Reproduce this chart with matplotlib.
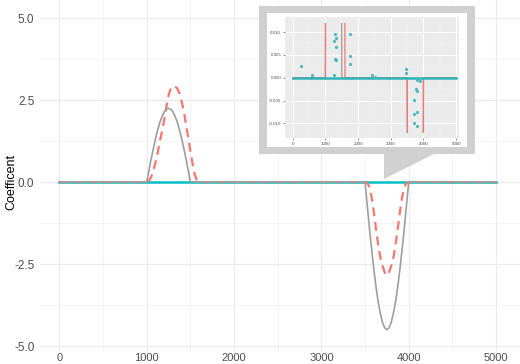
import matplotlib
matplotlib.use("Agg")
import matplotlib.pyplot as plt
from matplotlib.patches import Rectangle, Polygon

plt.rcParams['font.family'] = ['Liberation Sans', 'DejaVu Sans']

# estimated coefficient curves (main panel)
grey_x1 = list(range(1000, 1501, 25))
grey_y1 = [0, 0.35, 0.70, 1.02, 1.32, 1.59, 1.82, 2.00, 2.14, 2.22, 2.25,
           2.22, 2.14, 2.00, 1.82, 1.59, 1.32, 1.02, 0.70, 0.35, 0]
grey_x2 = list(range(3500, 4001, 25))
grey_y2 = [0, -0.70, -1.40, -2.04, -2.64, -3.18, -3.64, -4.00, -4.28, -4.44, -4.50,
           -4.44, -4.28, -4.00, -3.64, -3.18, -2.64, -2.04, -1.40, -0.70, 0]

red_x1 = list(range(1000, 1601, 25))
red_y1 = [0, 0.05, 0.15, 0.35, 0.60, 0.90, 1.25, 1.55, 1.90, 2.30, 2.65, 2.85, 2.93,
          2.92, 2.85, 2.70, 2.45, 2.15, 1.75, 1.35, 0.95, 0.55, 0.22, 0.06, 0]
red_x2 = list(range(3500, 4001, 25))
red_y2 = [0, -0.03, -0.15, -0.45, -0.90, -1.40, -1.90, -2.30, -2.55, -2.75, -2.85,
          -2.75, -2.55, -2.30, -1.90, -1.40, -0.90, -0.45, -0.15, -0.03, 0]

grey_x = [0] + grey_x1 + grey_x2 + [5000]
grey_y = [0] + grey_y1 + grey_y2 + [0]
red_x = [0] + red_x1 + red_x2 + [5000]
red_y = [0] + red_y1 + red_y2 + [0]
cyan_x = [0, 5000]
cyan_y = [0, 0]

# scattered small estimates shown in the zoomed inset
pts_x = [250, 590, 1290, 1322, 1270, 1312, 1296, 1322, 1275, 1768, 1768, 1768,
         2414, 2520, 3480, 3480, 3787, 3880, 3782, 3792, 3700, 3711, 3787, 3695, 3792]
pts_y = [0.0026, 0.0006, 0.0096, 0.0087, 0.0080, 0.0067, 0.0042, 0.0039, 0.0007,
         0.0095, 0.0047, 0.0030, 0.0006, 0.0002, 0.0020, 0.0010, -0.0006, -0.0007,
         -0.0025, -0.0028, -0.0048, -0.0080, -0.0075, -0.0099, -0.0105]

GREY = '#9E9E9E'
RED = '#F8766D'
CYAN = '#00BFC4'

W, H = 520, 364
fig = plt.figure(figsize=(W / 100, H / 100), dpi=100)


def fx(px):
    return px / W


def fy(py):
    return 1 - py / H


# main panel
ax = fig.add_axes([fx(40), fy(353), fx(520) - fx(40), fy(0) - fy(353)])
ax.set_xlim(-223, 5275)
ax.set_ylim(-5.21, 5.55)
ax.set_xticks([0, 1000, 2000, 3000, 4000, 5000])
ax.set_xticks([500, 1500, 2500, 3500, 4500], minor=True)
ax.set_yticks([-5, -2.5, 0, 2.5, 5])
ax.set_yticks([-3.75, -1.25, 1.25, 3.75], minor=True)
ax.set_yticklabels(['-5.0', '-2.5', '0.0', '2.5', '5.0'])
ax.grid(True, which='major', color='#EBEBEB', linewidth=0.9)
ax.grid(True, which='minor', color='#F2F2F2', linewidth=0.6)
ax.set_axisbelow(True)
for s in ax.spines.values():
    s.set_visible(False)
ax.tick_params(which='both', length=0, labelsize=8.5, labelcolor='#4D4D4D')
ax.tick_params(axis='x', pad=0, labelsize=8)
ax.tick_params(axis='y', pad=4)
fig.text(fx(11), fy(182), 'Coefficent', rotation=90, ha='center', va='center',
         fontsize=9, color='black')

ax.plot(cyan_x, cyan_y, color=CYAN, linewidth=1.8, zorder=2)
ax.plot(red_x, red_y, color=RED, linewidth=1.6, linestyle=(0, (4, 2.6)), zorder=3)
ax.plot(grey_x, grey_y, color=GREY, linewidth=1.2, zorder=4)

# callout box
box = Rectangle((fx(259), fy(154)), fx(475) - fx(259), fy(6) - fy(154),
                transform=fig.transFigure, facecolor='#D0D0D0', edgecolor='none', zorder=5)
tail = Polygon([(fx(384), fy(152)), (fx(438), fy(152)), (fx(384), fy(179))],
               closed=True, transform=fig.transFigure, facecolor='#D0D0D0',
               edgecolor='none', zorder=5)
inner = Rectangle((fx(267), fy(147)), fx(467) - fx(267), fy(13) - fy(147),
                  transform=fig.transFigure, facecolor='white', edgecolor='none', zorder=6)
fig.add_artist(box)
fig.add_artist(tail)
fig.add_artist(inner)

# inset (zoomed view)
axi = fig.add_axes([fx(285), fy(138), fx(459) - fx(285), fy(17) - fy(138)], zorder=7)
axi.set_facecolor('#EBEBEB')
axi.set_xlim(-235, 5086)
axi.set_ylim(-0.0132, 0.0133)
axi.set_xticks([0, 1000, 2000, 3000, 4000, 5000])
axi.set_xticks([500, 1500, 2500, 3500, 4500], minor=True)
axi.set_yticks([-0.010, -0.005, 0.0, 0.005, 0.010])
axi.set_yticks([-0.0075, -0.0025, 0.0025, 0.0075], minor=True)
axi.set_yticklabels(['-0.010', '-0.005', '0.000', '0.005', '0.010'])
axi.grid(True, which='major', color='white', linewidth=0.7)
axi.grid(True, which='minor', color='#F5F5F5', linewidth=0.35)
axi.set_axisbelow(True)
for s in axi.spines.values():
    s.set_visible(False)
axi.tick_params(which='major', length=1.2, width=0.4, color='#333333',
                labelsize=3.2, labelcolor='#4D4D4D', pad=1.5)
axi.tick_params(which='minor', length=0)

clip = Rectangle((-1000, -0.012), 7000, 0.024, transform=axi.transData)
l1, = axi.plot(grey_x, grey_y, color=GREY, linewidth=0.9, zorder=2)
l2, = axi.plot(red_x, red_y, color=RED, linewidth=0.9, zorder=3)
l1.set_clip_path(clip)
l2.set_clip_path(clip)
axi.plot(cyan_x, cyan_y, color='#2BB5B8', linewidth=1.8, zorder=4)
axi.plot(pts_x, pts_y, linestyle='none', marker='o', markersize=1.3,
         color='#4FB8BC', zorder=5)

fig.savefig('out.png', dpi=100)
